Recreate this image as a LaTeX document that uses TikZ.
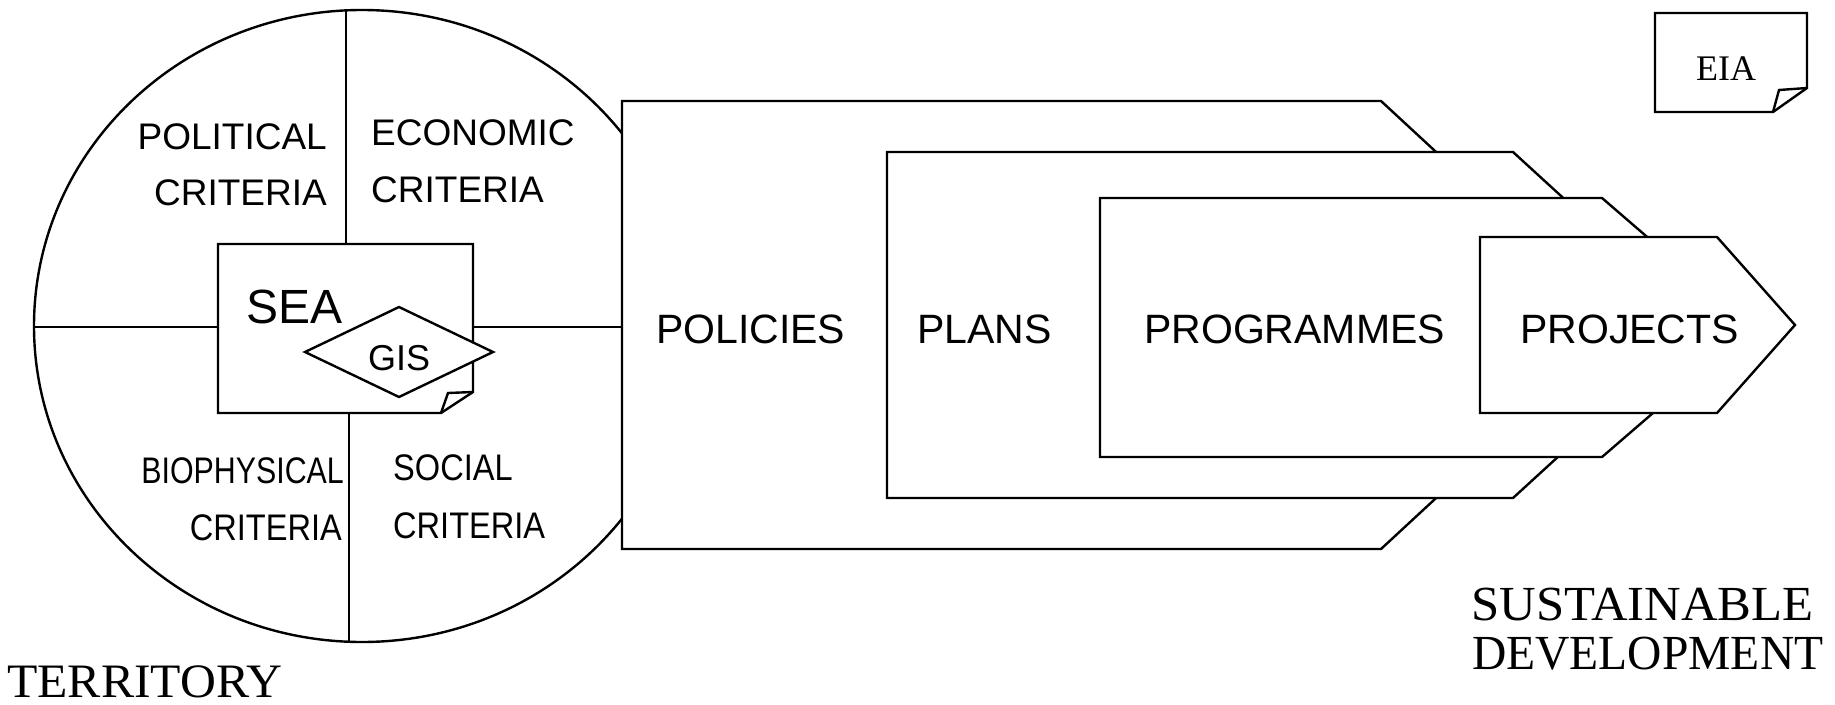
\documentclass[tikz,border=0pt]{standalone}
\usepackage{fontspec}
\usepackage{graphicx}
\setmainfont{Liberation Serif}
\newfontfamily\lsans{Liberation Sans}
\usetikzlibrary{shapes.geometric}
\begin{document}
\begin{tikzpicture}[x=1pt,y=-1pt, line width=2.4pt, line join=miter,
  lbl/.style={inner sep=0pt, font=\lsans\fontsize{37}{40}\selectfont},
  big/.style={inner sep=0pt, font=\lsans\fontsize{41}{44}\selectfont},
  ser/.style={inner sep=0pt, font=\fontsize{48}{52}\selectfont},
  stage/.style={draw, fill=white}]
\useasboundingbox (0,0) rectangle (1835,704);

% territory ellipse
\node[ellipse, draw, minimum width=656pt, minimum height=632pt, inner sep=0pt, outer sep=0pt] (terr) at (362,326) {};
\coordinate (tt) at (346,10);
\coordinate (tb) at (349,642);
\coordinate (tl) at (35,327);

% SEA box
\coordinate (s1) at (218,244);
\coordinate (s2) at (473,244);
\coordinate (s3) at (473,392);
\coordinate (s4) at (441,413);
\coordinate (s5) at (218,413);
\coordinate (s6) at (448,393);
\coordinate (sN) at (346,244);
\coordinate (sS) at (349,413);
\coordinate (sW) at (218,327);
\coordinate (sE) at (473,327);
\coordinate (pW) at (622,327);

\draw (tt) -- (sN);
\draw (sS) -- (tb);
\draw (tl) -- (sW);
\draw (sE) -- (pW);

\draw[fill=white] (s1) -- (s2) -- (s3) -- (s4) -- (s5) -- cycle;
\draw (s4) -- (s6) -- (s3);

% GIS diamond
\coordinate (gN) at (399,307);
\coordinate (gE) at (493,352);
\coordinate (gS) at (399,397);
\coordinate (gW) at (305,352);
\draw[fill=white] (gN) -- (gE) -- (gS) -- (gW) -- cycle;

% stages
\draw[stage] (622,101) -- (1381,101) -- (1623,325) -- (1381,549) -- (622,549) -- cycle;
\draw[stage] (887,152) -- (1513,152) -- (1702,325) -- (1513,498) -- (887,498) -- cycle;
\draw[stage] (1100,198) -- (1602,198) -- (1752,327.5) -- (1602,457) -- (1100,457) -- cycle;
\draw[stage] (1480,237) -- (1717,237) -- (1795,325) -- (1717,413) -- (1480,413) -- cycle;

% EIA note
\coordinate (e1) at (1655,13);
\coordinate (e2) at (1807,13);
\coordinate (e3) at (1807,88);
\coordinate (e4) at (1773,112);
\coordinate (e5) at (1655,112);
\coordinate (e6) at (1779,90);
\draw[fill=white] (e1) -- (e2) -- (e3) -- (e4) -- (e5) -- cycle;
\draw (e4) -- (e6) -- (e3);
\node[inner sep=0pt, font=\fontsize{36}{40}\selectfont, anchor=base west] (eia) at (1695,80) {EIA};

% criteria labels
\node[lbl, anchor=base east] (pol1) at (328,149) {POLITICAL};
\node[lbl, anchor=base east] (pol2) at (328,205) {CRITERIA};
\node[lbl, anchor=base west] (eco1) at (370,145) {ECONOMIC};
\node[lbl, anchor=base west] (eco2) at (370,202) {CRITERIA};
\node[lbl, anchor=base east] (bio1) at (345,483) {\scalebox{0.82}[1]{BIOPHYSICAL}};
\node[lbl, anchor=base east] (bio2) at (343,540) {\scalebox{0.88}[1]{CRITERIA}};
\node[lbl, anchor=base west] (soc1) at (392,480) {\scalebox{0.88}[1]{SOCIAL}};
\node[lbl, anchor=base west] (soc2) at (392,538) {\scalebox{0.88}[1]{CRITERIA}};

\node[inner sep=0pt, font=\lsans\fontsize{48}{52}\selectfont, anchor=base west] (sea) at (245,323) {SEA};
\node[inner sep=0pt, font=\lsans\fontsize{36}{40}\selectfont, anchor=base west] (gis) at (367,370) {GIS};

% stage labels
\node[big, anchor=base west] (pol) at (655,343) {POLICIES};
\node[big, anchor=base west] (pla) at (916,343) {PLANS};
\node[big, anchor=base west] (pro) at (1143,343) {PROGRAMMES};
\node[big, anchor=base west] (prj) at (1519,343) {PROJECTS};

% serif labels
\node[ser, anchor=base west] (ter) at (6,697) {\scalebox{1.035}[1]{TERRITORY}};
\node[ser, anchor=base west, font=\fontsize{49}{52}\selectfont] (sus1) at (1470,620) {\scalebox{1.035}[1]{SUSTAINABLE}};
\node[ser, anchor=base west, font=\fontsize{49}{52}\selectfont] (sus2) at (1471,669) {\scalebox{0.97}[1]{DEVELOPMENT}};
\end{tikzpicture}
\end{document}
